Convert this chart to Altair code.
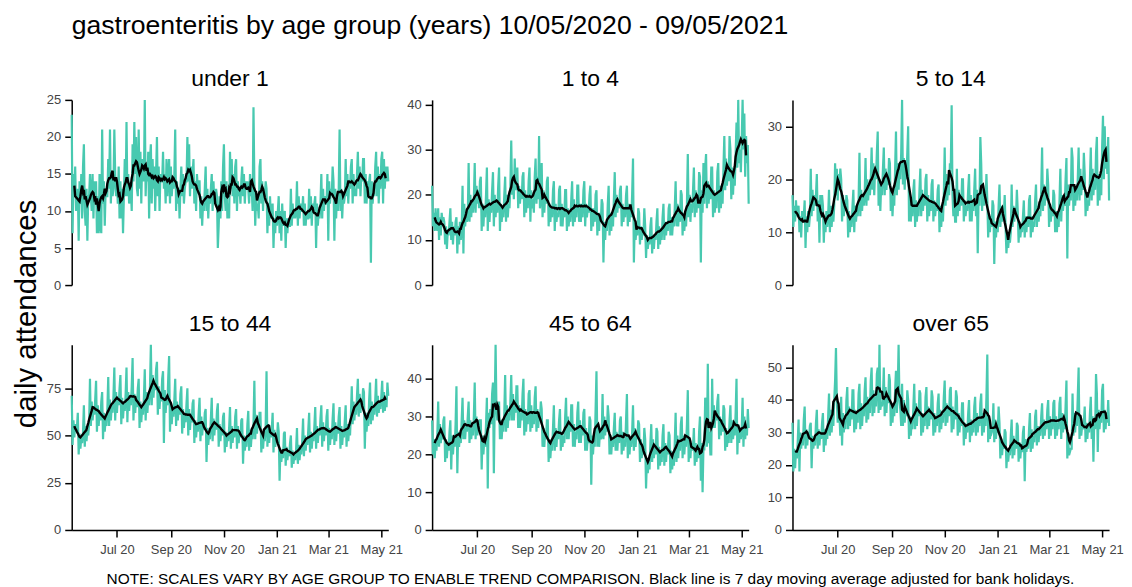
import altair as alt
import pandas as pd

# daily attendances 10/05/2020 (Sunday) to 09/05/2021, one line per week
under_1 = [
    23, 7, 15, 12, 16, 10, 11,
    13, 6, 14, 11, 15, 9, 16,
    19, 10, 8, 13, 6, 12, 12,
    15, 12, 10, 15, 9, 14, 13,
    14, 7, 12, 7, 15, 8, 7,
    21, 11, 14, 8, 13, 12, 12,
    17, 13, 21, 11, 15, 12, 13,
    21, 15, 12, 14, 11, 16, 9,
    14, 9, 13, 7, 12, 17, 12,
    22, 12, 15, 11, 12, 13, 10,
    19, 14, 22, 15, 20, 13, 12,
    21, 13, 18, 11, 17, 15, 14,
    25, 12, 16, 14, 18, 9, 17,
    19, 11, 17, 13, 16, 10, 15,
    20, 12, 16, 10, 15, 14, 14,
    18, 13, 15, 11, 17, 12, 15,
    17, 11, 16, 12, 14, 13, 15,
    21, 10, 14, 11, 13, 9, 13,
    16, 12, 15, 11, 13, 14, 14,
    20, 14, 19, 12, 16, 13, 15,
    17, 11, 14, 10, 15, 13, 14,
    14, 9, 12, 8, 11, 10, 13,
    16, 10, 13, 9, 12, 11, 13,
    15, 10, 14, 11, 12, 13, 12,
    5, 8, 12, 9, 14, 10, 16,
    19, 12, 10, 14, 9, 11, 9,
    18, 13, 17, 12, 15, 11, 16,
    17, 10, 14, 12, 13, 11, 14,
    16, 12, 15, 11, 14, 13, 14,
    13, 11, 15, 12, 13, 10, 24,
    14, 8, 12, 10, 11, 9, 16,
    17, 11, 14, 10, 13, 12, 14,
    13, 7, 11, 8, 12, 9, 10,
    11, 5, 9, 7, 10, 8, 10,
    12, 7, 10, 6, 11, 8, 9,
    10, 5, 9, 7, 9, 8, 8,
    13, 8, 11, 9, 10, 9, 10,
    14, 8, 12, 9, 11, 10, 10,
    12, 8, 11, 8, 10, 9, 9,
    13, 9, 12, 8, 11, 10, 11,
    12, 5, 11, 8, 10, 9, 11,
    15, 9, 13, 10, 12, 11, 11,
    15, 6, 14, 11, 13, 12, 16,
    14, 6, 13, 9, 12, 10, 13,
    21, 10, 13, 9, 12, 11, 12,
    17, 12, 15, 11, 14, 13, 16,
    17, 11, 15, 12, 13, 12, 15,
    18, 13, 16, 12, 15, 14, 17,
    17, 11, 15, 11, 14, 12, 14,
    15, 3, 14, 11, 13, 12, 16,
    18, 12, 16, 11, 15, 13, 17,
    18, 11, 17, 13, 16, 14, 16,
    14,
]

age_1_4 = [
    22, 13, 16, 12, 17, 13, 12,
    17, 10, 15, 11, 16, 14, 15,
    14, 9, 13, 8, 12, 11, 14,
    17, 10, 14, 9, 13, 11, 14,
    15, 7, 13, 9, 14, 10, 12,
    22, 7, 18, 13, 16, 14, 15,
    27, 14, 20, 15, 19, 16, 19,
    27, 16, 22, 18, 21, 17, 23,
    24, 12, 18, 13, 17, 15, 20,
    26, 12, 19, 14, 18, 16, 21,
    25, 13, 20, 15, 19, 16, 22,
    26, 12, 18, 14, 17, 15, 20,
    24, 14, 20, 15, 18, 17, 22,
    32, 20, 24, 19, 28, 21, 24,
    26, 17, 22, 18, 21, 19, 24,
    25, 15, 21, 16, 20, 17, 23,
    26, 14, 21, 17, 19, 16, 24,
    28, 18, 24, 19, 33, 17, 19,
    27, 15, 21, 16, 20, 18, 23,
    24, 13, 18, 14, 17, 15, 21,
    23, 12, 18, 14, 16, 15, 21,
    22, 13, 18, 13, 17, 15, 21,
    21, 12, 17, 13, 16, 14, 19,
    23, 13, 19, 14, 17, 15, 22,
    22, 14, 18, 14, 18, 15, 21,
    23, 13, 18, 15, 17, 16, 20,
    22, 12, 17, 13, 17, 14, 20,
    21, 11, 16, 12, 16, 14, 19,
    18, 5, 14, 10, 14, 12, 18,
    22, 11, 16, 12, 16, 13, 19,
    25, 15, 20, 16, 19, 17, 21,
    22, 13, 18, 14, 17, 15, 20,
    22, 13, 18, 14, 17, 15, 20,
    28, 5, 14, 10, 13, 11, 17,
    16, 9, 13, 10, 12, 11, 17,
    13, 6, 11, 8, 10, 9, 13,
    15, 7, 11, 8, 11, 10, 14,
    17, 8, 13, 9, 12, 10, 15,
    18, 10, 14, 11, 14, 12, 17,
    18, 11, 15, 11, 14, 13, 17,
    23, 13, 18, 13, 17, 14, 21,
    20, 11, 16, 12, 15, 13, 18,
    29, 15, 20, 14, 18, 16, 21,
    26, 15, 21, 16, 20, 17, 25,
    24, 5, 21, 16, 27, 18, 26,
    29, 17, 23, 18, 22, 19, 26,
    26, 15, 21, 16, 20, 17, 25,
    27, 16, 22, 17, 21, 18, 26,
    33, 21, 28, 22, 26, 23, 33,
    30, 19, 26, 20, 25, 22, 29,
    36, 26, 41, 27, 30, 25, 32,
    41, 30, 38, 24, 33, 27, 31,
    18,
]

age_5_14 = [
    17, 11, 15, 12, 16, 13, 14,
    15, 10, 13, 9, 14, 12, 13,
    16, 7, 13, 10, 14, 11, 13,
    22, 13, 18, 14, 17, 15, 17,
    21, 12, 16, 8, 17, 14, 17,
    15, 8, 13, 10, 14, 11, 13,
    18, 10, 15, 11, 14, 12, 15,
    23, 17, 22, 16, 21, 19, 22,
    20, 12, 17, 13, 16, 14, 17,
    16, 9, 14, 10, 13, 11, 15,
    18, 10, 15, 12, 14, 13, 16,
    25, 13, 18, 14, 17, 15, 17,
    24, 15, 20, 16, 19, 17, 20,
    26, 18, 23, 17, 22, 20, 25,
    29, 15, 20, 14, 19, 17, 22,
    26, 17, 22, 18, 21, 19, 24,
    23, 14, 18, 13, 17, 15, 22,
    29, 17, 23, 18, 22, 20, 25,
    35, 19, 24, 18, 23, 20, 25,
    30, 12, 16, 12, 15, 13, 18,
    20, 11, 16, 12, 15, 13, 18,
    22, 13, 18, 14, 17, 15, 20,
    21, 12, 17, 13, 16, 14, 19,
    20, 12, 16, 13, 15, 14, 18,
    19, 10, 15, 11, 14, 12, 17,
    26, 15, 21, 16, 19, 17, 23,
    22, 34, 17, 13, 16, 12, 12,
    22, 13, 18, 14, 17, 15, 20,
    20, 12, 16, 13, 15, 14, 18,
    21, 12, 17, 12, 16, 14, 18,
    22, 13, 18, 6, 17, 15, 28,
    23, 14, 19, 15, 18, 16, 21,
    16, 9, 13, 10, 13, 11, 16,
    15, 4, 12, 9, 12, 10, 15,
    19, 11, 15, 12, 15, 13, 17,
    11, 6, 9, 7, 9, 8, 10,
    19, 11, 15, 12, 14, 13, 18,
    14, 8, 12, 9, 11, 10, 13,
    16, 9, 13, 10, 13, 11, 16,
    17, 9, 13, 10, 12, 11, 16,
    19, 11, 15, 12, 14, 13, 18,
    26, 14, 19, 15, 18, 16, 22,
    19, 11, 15, 12, 14, 13, 18,
    17, 10, 14, 10, 13, 11, 16,
    22, 12, 17, 14, 16, 15, 20,
    24, 5, 19, 15, 18, 16, 26,
    24, 14, 19, 15, 18, 16, 20,
    26, 16, 22, 17, 20, 18, 25,
    21, 13, 17, 14, 16, 15, 20,
    26, 16, 22, 17, 20, 18, 25,
    28, 15, 21, 16, 20, 17, 26,
    32, 20, 30, 22, 26, 21, 28,
    16,
]

age_15_44 = [
    71, 45, 58, 49, 56, 52, 54,
    62, 40, 51, 43, 49, 46, 52,
    66, 44, 55, 47, 53, 50, 56,
    80, 55, 68, 58, 64, 61, 69,
    79, 52, 66, 55, 63, 58, 68,
    73, 48, 62, 52, 59, 55, 64,
    81, 55, 69, 58, 66, 62, 71,
    86, 58, 73, 62, 70, 66, 75,
    82, 56, 70, 59, 67, 63, 72,
    86, 57, 73, 63, 69, 66, 76,
    91, 58, 72, 62, 70, 65, 75,
    80, 54, 68, 57, 65, 61, 70,
    85, 58, 73, 62, 70, 66, 76,
    98, 66, 82, 70, 78, 74, 85,
    89, 61, 76, 64, 73, 68, 80,
    84, 46, 74, 62, 70, 66, 81,
    92, 52, 66, 56, 64, 60, 69,
    80, 55, 68, 58, 65, 61, 72,
    76, 51, 64, 54, 61, 57, 67,
    75, 50, 64, 53, 61, 57, 67,
    69, 46, 58, 49, 56, 52, 62,
    70, 47, 60, 50, 57, 53, 62,
    64, 36, 54, 45, 51, 48, 59,
    70, 47, 59, 50, 57, 53, 63,
    67, 44, 56, 47, 54, 50, 60,
    62, 41, 52, 44, 50, 47, 54,
    65, 43, 55, 46, 53, 49, 60,
    64, 43, 55, 46, 52, 49, 58,
    59, 35, 50, 42, 47, 44, 56,
    63, 42, 53, 44, 51, 48, 56,
    79, 48, 61, 51, 58, 54, 62,
    62, 41, 52, 43, 50, 47, 55,
    84, 44, 56, 46, 53, 49, 53,
    62, 41, 53, 44, 50, 47, 57,
    52, 26, 43, 36, 41, 38, 51,
    52, 34, 44, 37, 42, 39, 46,
    50, 33, 42, 35, 40, 37, 43,
    54, 35, 45, 37, 43, 40, 47,
    59, 39, 50, 42, 48, 45, 53,
    62, 41, 52, 43, 50, 47, 55,
    65, 43, 55, 46, 53, 50, 59,
    66, 44, 57, 47, 54, 50, 60,
    64, 42, 54, 45, 52, 48, 59,
    67, 45, 57, 47, 54, 51, 60,
    65, 43, 55, 45, 52, 49, 58,
    66, 44, 56, 47, 54, 50, 61,
    76, 56, 68, 58, 65, 61, 71,
    80, 60, 72, 62, 69, 65, 75,
    73, 43, 62, 52, 59, 55, 69,
    78, 56, 68, 58, 65, 61, 69,
    80, 60, 71, 62, 68, 64, 71,
    79, 62, 73, 63, 70, 65, 78,
    71,
]

age_45_64 = [
    29, 20, 24, 19, 23, 21, 25,
    34, 22, 28, 23, 26, 24, 29,
    30, 18, 24, 19, 23, 21, 26,
    29, 16, 25, 20, 24, 22, 28,
    38, 15, 26, 22, 25, 23, 29,
    35, 24, 29, 24, 28, 26, 30,
    34, 23, 29, 24, 27, 25, 30,
    39, 24, 30, 25, 29, 27, 29,
    29, 16, 25, 20, 24, 22, 28,
    35, 11, 31, 27, 32, 28, 36,
    39, 15, 33, 49, 32, 29, 31,
    34, 24, 29, 24, 28, 26, 31,
    41, 26, 33, 27, 31, 29, 34,
    41, 29, 36, 29, 34, 31, 38,
    38, 27, 33, 27, 31, 29, 36,
    40, 25, 32, 26, 30, 28, 36,
    37, 26, 33, 27, 31, 28, 35,
    38, 26, 32, 27, 31, 29, 34,
    32, 22, 27, 22, 26, 24, 29,
    29, 18, 24, 19, 23, 21, 27,
    33, 21, 27, 22, 26, 24, 29,
    32, 21, 26, 22, 25, 23, 30,
    35, 24, 30, 24, 28, 26, 33,
    33, 22, 28, 22, 26, 24, 31,
    34, 23, 29, 23, 27, 25, 31,
    32, 21, 27, 21, 25, 23, 30,
    29, 12, 25, 20, 24, 22, 32,
    42, 22, 28, 22, 26, 24, 25,
    36, 24, 30, 25, 29, 26, 33,
    30, 20, 25, 20, 24, 22, 27,
    31, 21, 26, 21, 25, 23, 29,
    30, 20, 26, 21, 24, 22, 29,
    36, 19, 25, 20, 24, 22, 26,
    33, 21, 27, 22, 26, 24, 29,
    28, 18, 24, 19, 22, 20, 27,
    24, 11, 19, 15, 18, 16, 23,
    28, 18, 24, 19, 22, 20, 27,
    26, 16, 22, 17, 20, 18, 25,
    28, 17, 23, 18, 22, 20, 26,
    25, 15, 21, 16, 19, 17, 23,
    31, 18, 25, 19, 23, 21, 28,
    30, 19, 25, 20, 24, 22, 28,
    37, 18, 24, 19, 23, 21, 22,
    27, 17, 23, 18, 21, 19, 26,
    30, 13, 23, 10, 22, 21, 35,
    34, 22, 44, 23, 26, 20, 20,
    40, 27, 33, 27, 31, 29, 34,
    36, 24, 30, 25, 29, 26, 33,
    32, 21, 27, 22, 25, 23, 29,
    33, 23, 29, 24, 27, 25, 31,
    40, 20, 28, 23, 27, 24, 27,
    35, 22, 30, 24, 28, 25, 32,
    27,
]

over_65 = [
    33, 18, 25, 19, 24, 22, 27,
    34, 18, 30, 25, 29, 26, 34,
    38, 25, 31, 26, 30, 28, 32,
    33, 19, 29, 25, 28, 26, 33,
    37, 25, 31, 26, 30, 28, 33,
    36, 24, 31, 26, 30, 28, 35,
    42, 29, 37, 30, 35, 32, 40,
    46, 56, 40, 33, 38, 35, 29,
    41, 26, 36, 30, 34, 31, 40,
    44, 31, 38, 32, 37, 34, 43,
    43, 30, 37, 31, 36, 33, 42,
    45, 31, 39, 32, 37, 35, 43,
    47, 33, 41, 34, 39, 36, 46,
    50, 35, 43, 36, 41, 38, 48,
    50, 36, 57, 37, 39, 38, 41,
    50, 35, 44, 36, 42, 39, 48,
    46, 32, 39, 33, 38, 35, 43,
    49, 36, 43, 57, 40, 37, 32,
    45, 32, 40, 33, 38, 35, 43,
    40, 28, 35, 29, 33, 31, 38,
    45, 31, 39, 32, 37, 35, 43,
    42, 29, 36, 30, 35, 32, 41,
    44, 31, 38, 32, 37, 34, 43,
    41, 29, 36, 30, 34, 32, 39,
    42, 30, 37, 31, 35, 33, 41,
    46, 32, 39, 33, 38, 35, 43,
    44, 30, 38, 31, 36, 34, 43,
    41, 29, 36, 30, 34, 32, 39,
    39, 26, 33, 28, 32, 30, 36,
    40, 27, 34, 29, 33, 30, 38,
    41, 29, 36, 30, 34, 32, 39,
    42, 29, 36, 30, 35, 32, 41,
    54, 27, 34, 28, 31, 30, 31,
    39, 27, 34, 28, 32, 30, 38,
    33, 22, 28, 23, 27, 25, 31,
    30, 19, 25, 21, 24, 23, 29,
    34, 22, 29, 23, 27, 25, 33,
    32, 21, 27, 22, 26, 24, 30,
    32, 15, 28, 24, 27, 25, 31,
    36, 24, 31, 25, 29, 27, 35,
    37, 26, 32, 27, 31, 29, 35,
    39, 28, 34, 29, 33, 31, 37,
    40, 28, 35, 29, 34, 31, 39,
    40, 28, 35, 29, 33, 31, 39,
    41, 28, 36, 30, 34, 31, 38,
    46, 22, 28, 23, 24, 25, 25,
    42, 29, 36, 30, 35, 32, 41,
    50, 28, 35, 29, 32, 31, 33,
    38, 27, 33, 28, 32, 30, 36,
    41, 28, 35, 21, 34, 31, 48,
    42, 24, 37, 31, 35, 33, 43,
    45, 30, 37, 31, 36, 33, 40,
    32,
]

group_names = ["under 1", "1 to 4", "5 to 14", "15 to 44", "45 to 64", "over 65"]
group_values = [under_1, age_1_4, age_5_14, age_15_44, age_45_64, over_65]
y_ticks = [
    [0, 5, 10, 15, 20, 25],
    [0, 10, 20, 30, 40],
    [0, 10, 20, 30],
    [0, 25, 50, 75],
    [0, 10, 20, 30, 40],
    [0, 10, 20, 30, 40, 50],
]
month_ticks = [
    alt.DateTime(year=2020, month=7, date=1),
    alt.DateTime(year=2020, month=9, date=1),
    alt.DateTime(year=2020, month=11, date=1),
    alt.DateTime(year=2021, month=1, date=1),
    alt.DateTime(year=2021, month=3, date=1),
    alt.DateTime(year=2021, month=5, date=1),
]
date_domain = [
    alt.DateTime(year=2020, month=5, date=10),
    alt.DateTime(year=2021, month=5, date=9),
]

title_text = "gastroenteritis by age group (years) 10/05/2020 - 09/05/2021"
y_title = "daily attendances"
note_text = ("NOTE: SCALES VARY BY AGE GROUP TO ENABLE TREND COMPARISON. "
             "Black line is 7 day moving average adjusted for bank holidays.")

dates = pd.date_range("2020-05-10", "2021-05-09", freq="D")

TEAL = "#48C9B0"
FONT = "Liberation Sans"
W, H = 318, 186


def text_layer(label, x, y, size, align="center", angle=0, color="black"):
    return alt.Chart(pd.DataFrame({"label": [label]})).mark_text(
        font=FONT, fontSize=size, align=align, baseline="alphabetic",
        angle=angle, color=color
    ).encode(x=alt.value(x), y=alt.value(y), text="label:N")


def make_panel(i):
    df = pd.DataFrame({"date": dates, "value": group_values[i]})
    bottom = i >= 3
    if bottom:
        x_axis = alt.Axis(values=month_ticks, format="%b %y", title=None,
                          labelFlush=False, tickSize=7, labelPadding=7)
    else:
        x_axis = None
    x = alt.X("date:T", axis=x_axis,
              scale=alt.Scale(domain=date_domain, nice=False))
    y_scale = alt.Scale(zero=True, nice=False)
    y_axis = alt.Axis(values=y_ticks[i], title=None, tickSize=7, labelPadding=4)

    base = alt.Chart(df)
    daily = base.mark_line(color=TEAL, strokeWidth=2.2).encode(
        x=x, y=alt.Y("value:Q", scale=y_scale, axis=y_axis)
    )
    # centred 7 day moving average
    ma = base.transform_window(
        ma="mean(value)", n="count()", frame=[-3, 3], sort=[alt.SortField("date")]
    ).transform_filter("datum.n == 7").mark_line(
        color="black", strokeWidth=2.4
    ).encode(x=x, y=alt.Y("ma:Q", scale=y_scale, axis=y_axis))

    layers = [daily, ma, text_layer(group_names[i], W / 2, -14 if i < 3 else -13.5, 23)]
    if i == 0:
        layers.append(text_layer(title_text, 0, -66, 26.7, align="left"))
        layers.append(text_layer(y_title, -36, 215, 29.5, angle=270))
    if i == 3:
        layers.append(text_layer(note_text, 521, 240, 15.5))
    return alt.layer(*layers).properties(width=W, height=H)


panels = [make_panel(i) for i in range(6)]

chart = alt.concat(
    *panels, columns=3, spacing={"row": 60, "column": 44}, bounds="flush"
).properties(
    padding={"left": 3, "top": 4, "right": 0, "bottom": 0}
).configure_view(
    stroke=None
).configure_axis(
    grid=False, domainColor="black", domainWidth=1.5, tickColor="black",
    tickWidth=1.5, labelFont=FONT, labelFontSize=13, labelColor="#444444"
)

chart.save("out.html", embed_options={"renderer": "svg", "actions": False})
